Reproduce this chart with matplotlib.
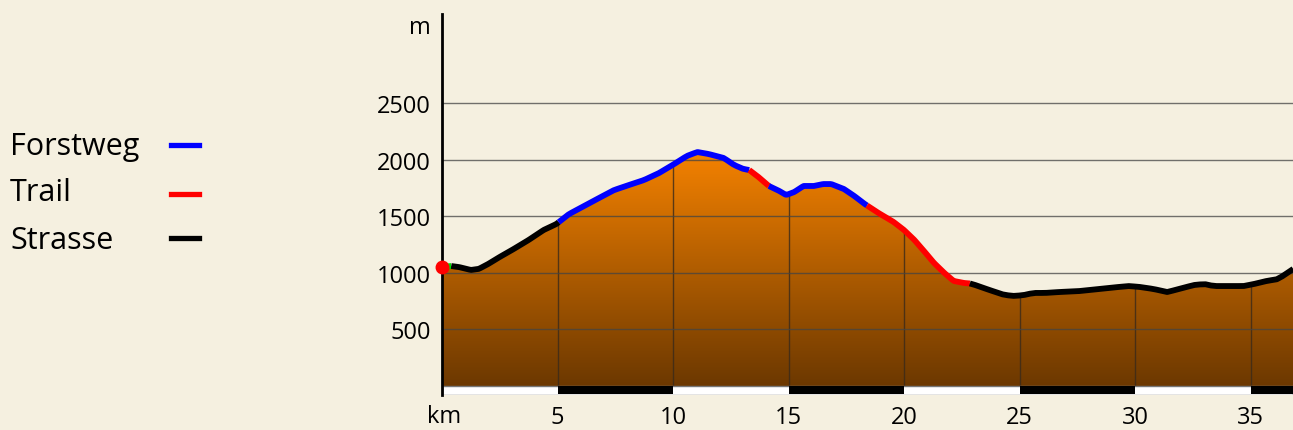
import numpy as np
import matplotlib
matplotlib.use("Agg")
import matplotlib.pyplot as plt
from matplotlib.colors import LinearSegmentedColormap
from matplotlib.patches import Polygon, Rectangle
from matplotlib.transforms import blended_transform_factory

plt.rcParams['font.family'] = ['Open Sans', 'DejaVu Sans']

# ---------- DATA ----------
km = [0.0, 0.4, 0.75, 1.25, 1.6, 2.0, 2.5, 3.1, 3.75, 4.4, 4.95, 5.5, 6.15, 6.8,
      7.45, 8.1, 8.75, 9.4, 10.05, 10.6, 11.05, 11.55, 12.2, 12.65, 13.05, 13.3,
      13.7, 14.15, 14.6, 14.9, 15.25, 15.65, 16.1, 16.5, 16.85, 17.4, 17.85,
      18.3, 18.9, 19.55, 20.0, 20.45, 20.9, 21.3, 21.75, 22.15, 22.6, 22.9,
      23.7, 24.35, 24.8, 25.2, 25.6, 26.1, 26.7, 27.6, 28.45, 29.3, 29.75, 30.2,
      30.8, 31.4, 31.9, 32.55, 33.0, 33.4, 34.05, 34.7, 35.15, 35.7, 36.2, 36.85]
elev = [1051, 1060, 1050, 1025, 1035, 1078, 1140, 1210, 1290, 1378, 1431, 1519,
        1590, 1661, 1731, 1776, 1820, 1882, 1961, 2032, 2067, 2049, 2014, 1952,
        1917, 1908, 1846, 1767, 1723, 1687, 1714, 1767, 1767, 1784, 1784, 1740,
        1678, 1608, 1528, 1449, 1378, 1290, 1184, 1087, 998, 928, 910, 905,
        848, 804, 795, 804, 822, 822, 830, 839, 857, 875, 883, 875, 857, 830,
        857, 892, 901, 883, 883, 883, 901, 928, 945, 1034]

# path type sections (start km, end km, type)
sections = [(0.0, 0.4, 'start'), (0.4, 5.05, 'Strasse'), (5.05, 13.3, 'Forstweg'),
            (13.3, 14.15, 'Trail'), (14.15, 18.4, 'Forstweg'),
            (18.4, 22.85, 'Trail'), (22.85, 36.85, 'Strasse')]
legend_names = ['Forstweg', 'Trail', 'Strasse']
type_colors = {'Forstweg': '#0000ff', 'Trail': '#ff0000', 'Strasse': '#000000',
               'start': '#00dd00'}

yticks = [500, 1000, 1500, 2000, 2500]
xticks = [5, 10, 15, 20, 25, 30, 35]

# ---------- FIGURE ----------
W, H = 1293, 431
bg = '#f5f0e0'
fig = plt.figure(figsize=(W / 100, H / 100), dpi=100, facecolor=bg)
ax = fig.add_axes([442 / W, 1 - 396 / H, 1 - 442 / W, (396 - 15) / H])
ax.set_facecolor(bg)

px_km = 23.1
px_m = 56.6 / 500
ax.set_xlim(0, (W - 442) / px_km)
ax.set_ylim(-9 / px_m, (387 - 15) / px_m)

x = np.array(km)
y = np.array(elev)

# gradient fill under profile
cmap = LinearSegmentedColormap.from_list('terrain', ['#6c3800', '#f58200'])
grad = np.linspace(0, 1, 256).reshape(-1, 1)
im = ax.imshow(grad, cmap=cmap, origin='lower', aspect='auto',
               extent=[0, x[-1], 0, 2070], zorder=1)
verts = np.vstack([[x[0], 0], np.column_stack([x, y]), [x[-1], 0]])
clip = Polygon(verts, closed=True, facecolor='none', edgecolor='none',
               transform=ax.transData)
ax.add_patch(clip)
im.set_clip_path(clip)

# vertical grid only inside the fill
vl = ax.vlines(xticks, 0, 2100, colors='#3a2a1a', linewidth=1, alpha=0.8, zorder=2)
vl.set_clip_path(clip)

# horizontal grid
for v in yticks:
    ax.axhline(v, color='#444444', linewidth=1, alpha=0.75, zorder=2)

# profile line coloured by path type
for a, b, kind in sections:
    xs = np.linspace(a, b, 60)
    ax.plot(xs, np.interp(xs, x, y), color=type_colors[kind], linewidth=4.2,
            solid_capstyle='butt', zorder=4)
ax.plot([x[0]], [y[0]], 'o', color='#ff0000', markersize=9, zorder=7,
        clip_on=False)

# km scale bar
bar_h = 9 / px_m
ax.add_patch(Rectangle((0, -bar_h), x[-1], bar_h, facecolor='white',
                       edgecolor='#777777', linewidth=1, zorder=3))
for k in range(5, 40, 10):
    ax.add_patch(Rectangle((k, -bar_h * 0.85), min(5, x[-1] - k), bar_h * 0.85,
                           facecolor='black', edgecolor='none', zorder=3))

# axes styling
for s in ['top', 'right', 'bottom']:
    ax.spines[s].set_visible(False)
ax.spines['left'].set_linewidth(2)
ax.spines['left'].set_color('black')
ax.spines['left'].set_zorder(6)

ax.set_yticks(yticks)
ax.set_yticklabels([str(v) for v in yticks])
ax.set_xticks(xticks)
ax.set_xticklabels([str(v) for v in xticks])
ax.tick_params(axis='both', length=0, labelsize=17, colors='black')
ax.tick_params(axis='y', pad=8)
ax.tick_params(axis='x', pad=7)

trans_y = blended_transform_factory(ax.transAxes, ax.transData)
ax.text(-0.013, (387 - 28) / px_m, 'm', transform=trans_y, ha='right',
        va='center', fontsize=17)
ax.text(0.1, -30 / px_m, 'km', ha='center', va='center', fontsize=17,
        clip_on=False)

# legend
fig_tr = fig.transFigure
for i, name in enumerate(legend_names):
    base = [155, 201, 249][i]
    ly = [146, 195, 239][i]
    fig.text(10 / W, 1 - base / H, name, fontsize=22, va='baseline', ha='left')
    fig.add_artist(plt.Line2D([171 / W, 199 / W], [1 - ly / H, 1 - ly / H],
                              color=type_colors[name], linewidth=3.8,
                              transform=fig_tr))

fig.savefig('out.png', dpi=100, facecolor=bg)
